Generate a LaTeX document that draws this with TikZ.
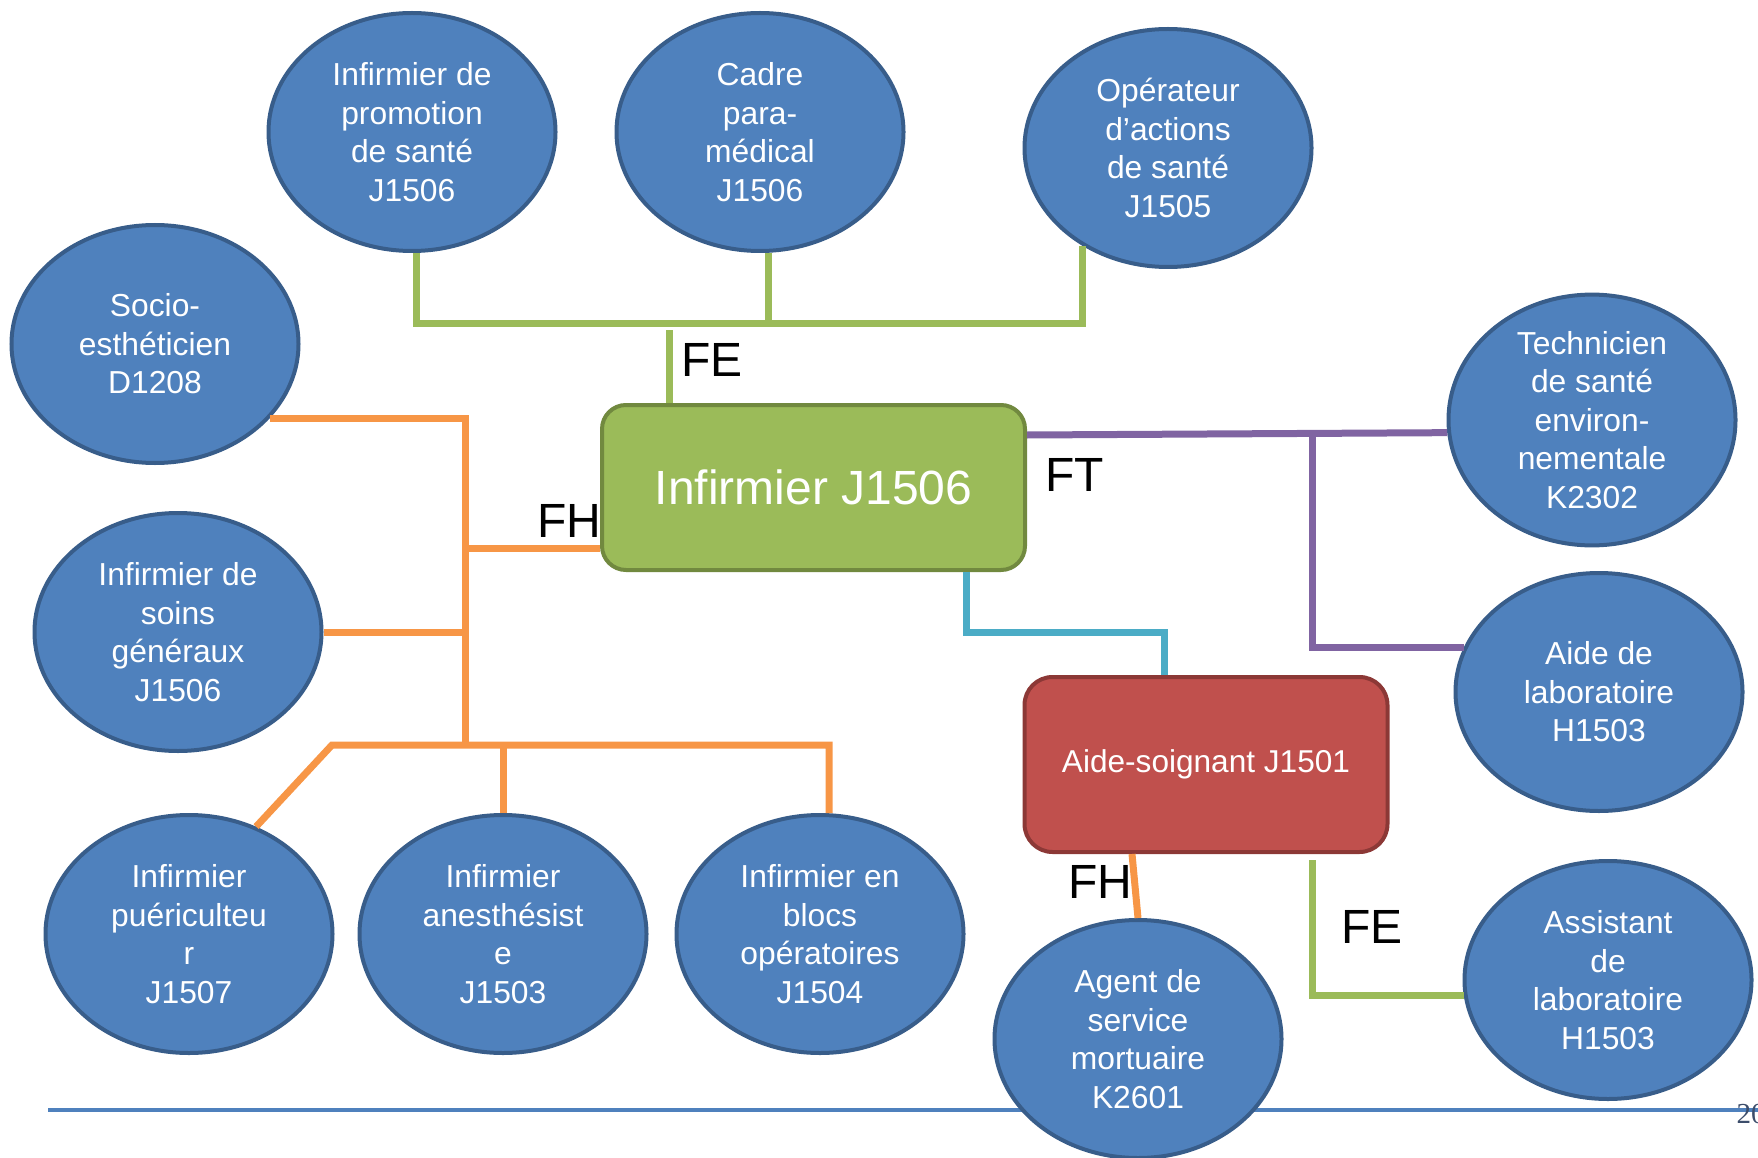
\documentclass[tikz,border=0pt]{standalone}
\usepackage{fontspec}
\setmainfont{Liberation Sans}
\newfontfamily\numfont{Liberation Serif}
\usetikzlibrary{positioning, calc, shapes.geometric, backgrounds}
\definecolor{blue538}{HTML}{4F81BD}
\definecolor{blueedge538}{HTML}{385D8A}
\definecolor{green538}{HTML}{9BBB59}
\definecolor{greenedge538}{HTML}{71893F}
\definecolor{red538}{HTML}{C0504D}
\definecolor{rededge538}{HTML}{8C3836}
\definecolor{orange538}{HTML}{F79646}
\definecolor{purple538}{HTML}{8064A2}
\definecolor{cyan538}{HTML}{4BACC6}
\definecolor{slate538}{HTML}{3C4D6B}

\begin{document}
\begin{tikzpicture}[
          x = 1pt, y = -1pt,
          inner sep = 0, line width = 7pt
        ]
          \tikzstyle {job} = [draw = blueedge538, line width = 4pt, shape = ellipse, fill = blue538, text = white,
            minimum width = 287pt, minimum height = 238pt, align = center, font = \fontsize{31.8}{38.5}\selectfont]
          \tikzstyle {mainbox} = [draw = greenedge538, line width = 4pt, shape = rectangle, rounded corners = 24pt,
            fill = green538, text = white, minimum width = 423pt, minimum height = 165pt, font = \fontsize{48}{56}\selectfont]
          \tikzstyle {aidebox} = [draw = rededge538, line width = 4pt, shape = rectangle, rounded corners = 28pt,
            fill = red538, text = white, minimum width = 363pt, minimum height = 175pt, font = \fontsize{31.6}{38}\selectfont]
          \tikzstyle {rel} = [anchor = base west, font = \fontsize{48}{56}\selectfont]
          \tikzstyle {feline} = [draw = green538]
          \tikzstyle {fhline} = [draw = orange538]
          \tikzstyle {ftline} = [draw = purple538]
          \tikzstyle {cyline} = [draw = cyan538]
          \useasboundingbox (0,0) rectangle (1758,1158);
          % place nodes
          \foreach \n/\x/\y/\t in {
              prom/412/132/{Infirmier de\\promotion\\de santé\\J1506},
              cadre/760/132/{Cadre\\para-\\médical\\J1506},
              oper/1168/148/{Opérateur\\d’actions\\de santé\\J1505},
              socio/155/344/{Socio-\\esthéticien\\D1208},
              soins/178/632/{Infirmier de\\soins\\généraux\\J1506},
              puer/189/934/{Infirmier\\puériculteu\\r\\J1507},
              anest/503/934/{Infirmier\\anesthésist\\e\\J1503},
              blocs/820/934/{Infirmier en\\blocs\\opératoires\\J1504},
              agent/1138/1039/{Agent de\\service\\mortuaire\\K2601},
              techn/1592/420/{Technicien\\de santé\\environ-\\nementale\\K2302},
              labo/1599/692/{Aide de\\laboratoire\\H1503},
              assist/1608/980/{Assistant\\de\\laboratoire\\H1503}}
            { \path node (\n) [job] at (\x,\y) {\t} ; } ;
          \path node (inf) [mainbox] at (813.5,487.5) {Infirmier J1506};
          \path node (aides) [aidebox] at (1206,764.5) {Aide-soignant J1501};
          % labels
          \path node (feTopLbl) [rel] at (678,376) {FE};
          \path node (fhLeftLbl) [rel] at (534,537) {FH};
          \path node (ftLbl) [rel] at (1042,491) {FT};
          \path node (fhLowLbl) [rel] at (1065,898) {FH};
          \path node (feLowLbl) [rel] at (1338,943) {FE};
          \path node (pgnum) [anchor = base west, text = slate538, font = \numfont\fontsize{29}{34}\selectfont] at (1733,1123) {20};
          % place edges
          \coordinate (feBar) at (0,323);
          \coordinate (feTop) at (669,330);
          \coordinate (feLow) at (1312,860);
          \draw [feline] (prom.272) |- (oper.229 |- feBar) -- (oper.229);
          \draw [feline] (cadre.274) -- (cadre.274 |- feBar);
          \draw [feline] (feTop) -- (feTop |- inf.north);
          \draw [feline] (feLow) |- (assist.186);
          \coordinate (fhV) at (465,0);
          \coordinate (fhIn) at (600,548);
          \coordinate (fhBL) at (332,745);
          \coordinate (fhBR) at (829,745);
          \coordinate (fhS) at (1132,0);
          \draw [fhline] (socio.327) -| (fhV |- fhBL);
          \draw [fhline] (soins.east) -- (soins.east -| fhV);
          \draw [fhline] (fhIn -| inf.west) -- (fhIn -| fhV);
          \draw [fhline] (puer.58) -- (fhBL) -- (fhBR) -- (fhBR |- blocs.north);
          \draw [fhline] (anest.north) -- (anest.north |- fhBL);
          \draw [fhline] (aides.south -| fhS) -- (agent.north);
          \coordinate (ftA) at (0,435);
          \coordinate (ftV) at (1312,433);
          \draw [ftline] (ftA -| inf.east) -- (techn.185);
          \draw [ftline] (ftV) |- (labo.162);
          \coordinate (cyA) at (966,632);
          \coordinate (cyB) at (1164,632);
          \draw [cyline] (inf.south -| cyA) -- (cyA) -- (cyB) -- (cyB |- aides.north);
          \begin{scope}[on background layer]
            \draw [draw = blue538, line width = 4pt] (48,1110) -- (1758,1110);
          \end{scope}
        \end{tikzpicture}
\end{document}
